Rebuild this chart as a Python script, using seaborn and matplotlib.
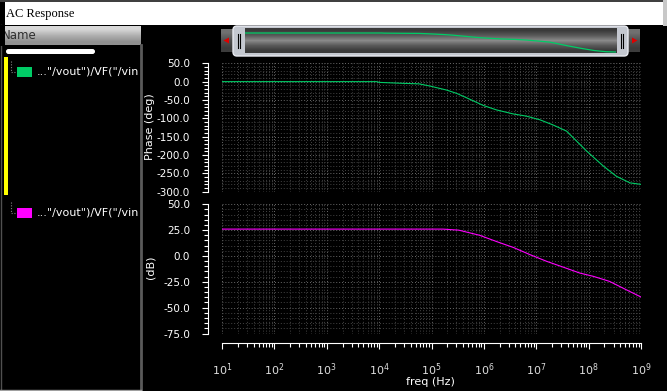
import matplotlib.pyplot as plt
import numpy as np
import pandas as pd
import seaborn as sns
from matplotlib.colors import to_rgb
from matplotlib.patches import Rectangle, FancyBboxPatch, Polygon
from matplotlib.ticker import MultipleLocator, FormatStrFormatter, LogLocator, NullFormatter

W, H = 667, 391

# phase trace (log10 of freq, degrees)
phase_log_f = [1.0, 3.95, 4.0, 4.43, 4.76, 4.97, 5.29, 5.48, 5.67, 5.99, 6.24,
               6.56, 6.81, 7.07, 7.32, 7.58, 7.96, 8.28, 8.53, 8.79, 9.0]
phase_deg = [0, 0, -2, -4.5, -6, -12, -23, -32, -44, -65, -77,
             -88, -94, -104, -118, -135, -189, -230, -258, -276, -280]

# gain trace (log10 of freq, dB)
gain_log_f = [1.0, 5.22, 5.52, 5.92, 6.24, 6.56, 6.88, 7.2, 7.51, 7.83, 8.09, 8.4, 8.72, 9.0]
gain_db = [26, 26, 25, 20, 14, 8.3, 1.3, -5.2, -10.7, -16.5, -19.7, -24.6, -32.7, -39.7]

trace_name = '..."/vout")/VF("/vin'
green = '#00cc66'
magenta = '#ff00ff'

phase = pd.DataFrame({'freq': 10 ** np.array(phase_log_f), 'phase': phase_deg})
gain = pd.DataFrame({'freq': 10 ** np.array(gain_log_f), 'db': gain_db})

plt.rcParams['axes.unicode_minus'] = False
plt.rcParams['font.family'] = ['DejaVu Sans']

fig = plt.figure(figsize=(W / 100, H / 100), dpi=100, facecolor='black')


def rect(x0, y0, x1, y1):
    return [x0 / W, 1 - y1 / H, (x1 - x0) / W, (y1 - y0) / H]


# window chrome, drawn in pixel coordinates
bg = fig.add_axes([0, 0, 1, 1], zorder=0)
bg.axis('off')


def gradient(x0, y0, x1, y1, colors, z=1):
    arr = np.array([to_rgb(c) for c in colors])[:, None, :].repeat(2, axis=1)
    bg.imshow(arr, extent=(x0, x1, y1, y0), aspect='auto',
              interpolation='bilinear', zorder=z)


# title bar
bg.add_patch(Rectangle((0, 0), W, 2, fc='#404040', ec='none', zorder=1))
bg.add_patch(Rectangle((5, 2), 658, 23, fc='white', ec='none', zorder=1))
bg.add_patch(Rectangle((663, 0), 4, 26, fc='#c8c8c8', ec='none', zorder=1))
bg.text(6, 14, 'AC Response', fontsize=9, family='Liberation Serif',
        color='black', va='center', zorder=3)

# name header
gradient(5, 26, 141, 45, ['#d8d8d8', '#b0b0b0', '#909090'])
bg.text(2, 35.5, 'Name', fontsize=8.5, color='#303030', va='center', zorder=3)
bg.add_patch(Rectangle((0, 25), 5, 21, fc='black', ec='none', zorder=4))

# left panel
bg.plot([141, 141], [45, H], color='#5a5a5a', lw=2, zorder=2)
bg.plot([0.5, 0.5], [25, H], color='#505050', lw=1, zorder=2)
bg.plot([0, 141], [390, 390], color='#a0a0a0', lw=1, zorder=2)
bg.add_patch(FancyBboxPatch((6, 49), 89, 5, boxstyle='round,pad=0,rounding_size=2.5',
                            fc='white', ec='none', zorder=2))
bg.add_patch(Rectangle((4, 57), 3.5, 138, fc='#ffff00', ec='none', zorder=2))
clip = Rectangle((0, 0), 139, H, transform=bg.transData)
for yc, col in [(71.5, green), (212.5, magenta)]:
    bg.plot([11, 11, 15], [yc - 11, yc, yc], color='#808080', lw=0.8,
            ls=(0, (1, 1.5)), zorder=2)
    bg.add_patch(Rectangle((17, yc - 4.5), 15, 9.5, fc=col, ec='none', zorder=2))
    t = bg.text(37, yc, trace_name, fontsize=8, color='white', va='center', zorder=3)
    t.set_clip_path(clip)

# scroll bar
for xb in [221, 628]:
    gradient(xb, 29, xb + 12, 52, ['#707070', '#505050', '#3c3c3c'], z=1)
bg.add_patch(Polygon([(223.5, 40.5), (229, 37.5), (229, 43.5)], fc='#dd0000', ec='none', zorder=2))
bg.add_patch(Polygon([(637.5, 40.5), (632, 37.5), (632, 43.5)], fc='#dd0000', ec='none', zorder=2))
bg.add_patch(FancyBboxPatch((233, 26), 395, 30, boxstyle='round,pad=0,rounding_size=4',
                            fc='#c4c8d0', ec='#e8eaf0', lw=1, zorder=2))
gradient(245, 28, 617, 53, ['#3a3a3a', '#5a5a5a', '#8a8a8a', '#5a5a5a', '#3a3a3a'], z=3)
for xh in [238, 240, 621, 623]:
    bg.plot([xh, xh], [34, 48], color='black', lw=0.8, zorder=3)

bg.set_xlim(0, W)
bg.set_ylim(H, 0)

# overview curve inside the scroll trough
ov = fig.add_axes(rect(245, 31, 616, 54), zorder=2)
sns.lineplot(data=phase, x='freq', y='phase', ax=ov, color=green, lw=0.9)
ov.set_xscale('log')
ov.set_xlim(10, 1e9)
ov.set_ylim(-309.5, 29.5)
ov.axis('off')

# main plots
ax1 = fig.add_axes(rect(222, 63.3, 641, 191.7), zorder=1)
ax2 = fig.add_axes(rect(222, 204.3, 641, 333.5), zorder=1)
sns.lineplot(data=phase, x='freq', y='phase', ax=ax1, color=green, lw=0.8)
sns.lineplot(data=gain, x='freq', y='db', ax=ax2, color=magenta, lw=0.8)

for ax, lims, major, minor in [(ax1, (-300, 50), 50, 10), (ax2, (-75, 50), 25, 5)]:
    ax.set_facecolor('none')
    ax.set_xscale('log')
    ax.set_xlim(10, 1e9)
    ax.set_ylim(*lims)
    ax.set_xlabel('')
    ax.set_ylabel('')
    ax.xaxis.set_major_locator(LogLocator(base=10, numticks=12))
    ax.xaxis.set_minor_locator(LogLocator(base=10, subs=np.arange(2, 10), numticks=12))
    ax.xaxis.set_minor_formatter(NullFormatter())
    ax.yaxis.set_major_locator(MultipleLocator(major))
    ax.yaxis.set_minor_locator(MultipleLocator(minor))
    ax.yaxis.set_major_formatter(FormatStrFormatter('%.1f'))
    for s in ['top', 'right']:
        ax.spines[s].set_visible(False)
    ax.spines['left'].set_position(('outward', 10))
    ax.spines['left'].set_bounds(*lims)
    ax.spines['left'].set_color('white')
    ax.grid(which='major', color='#6a6a6a', lw=0.7, ls=(0, (1, 2)))
    ax.grid(which='minor', color='#444444', lw=0.7, ls=(0, (1, 2)))
    ax.tick_params(axis='y', which='major', direction='out', length=4.3, width=0.8,
                   color='white', labelcolor='white', labelsize=7.5, pad=8.6)
    ax.tick_params(axis='y', which='minor', direction='out', length=2.9, width=0.8,
                   color='white')

ax1.spines['bottom'].set_visible(False)
ax1.tick_params(axis='x', which='both', bottom=False, labelbottom=False)

ax2.spines['bottom'].set_position(('outward', 7))
ax2.spines['bottom'].set_bounds(10, 1e9)
ax2.spines['bottom'].set_color('white')
ax2.tick_params(axis='x', which='major', direction='out', length=4.3, width=0.8,
                color='white', labelcolor='#dddddd', labelsize=8, pad=8.5)
ax2.tick_params(axis='x', which='minor', direction='out', length=2.6, width=0.8,
                color='white')

fig.text(150 / W, 1 - 126.5 / H, 'Phase (deg)', rotation=90, color='white',
         fontsize=8, ha='center', va='center')
fig.text(150 / W, 1 - 267 / H, '(dB)', rotation=90, color='white',
         fontsize=8, ha='center', va='center')
fig.text(430 / W, 1 - 382 / H, 'freq (Hz)', color='white',
         fontsize=8, ha='center', va='center')

fig.savefig('out.png', dpi=100, facecolor='black')
